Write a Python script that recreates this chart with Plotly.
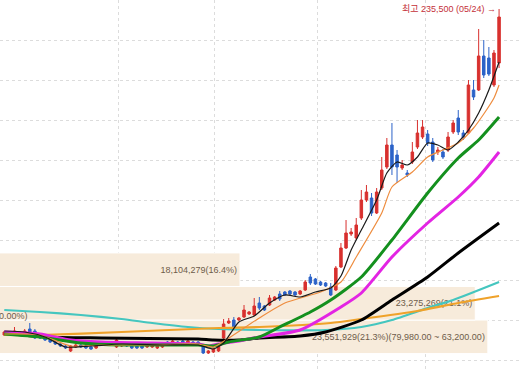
import plotly.graph_objects as go

# ---- prices in thousands of won ----
candle_idx = list(range(98))
open_k = [72.5, 72.5, 73.0, 73.0, 73.5, 75.5, 74.5, 72.0, 71.0, 70.0,
          69.0, 68.0, 67.0, 64.5, 66.5, 67.5, 67.0, 66.5, 66.0, 67.5,
          69.0, 68.0, 66.5, 67.0, 68.0, 67.0, 67.5, 67.0, 66.5, 66.5,
          66.0, 66.5, 69.0, 68.5, 69.0, 69.5, 68.5, 69.0, 69.0, 67.0,
          63.5, 64.0, 64.5, 71.0, 78.5, 80.0, 80.0, 81.5, 83.0, 82.5,
          88.5, 87.0, 87.5, 90.0, 93.0, 94.0, 94.5, 94.0, 93.0, 95.0,
          101.5, 100.5, 99.0, 98.5, 96.5, 95.0, 106.5, 116.0, 123.0, 121.0,
          131.0, 140.0, 141.0, 133.5, 146.0, 156.5, 167.5, 162.5, 156.0, 153.5,
          159.0, 166.5, 171.5, 173.0, 169.0, 164.0, 164.0, 165.0, 174.0, 181.0,
          173.5, 173.5, 195.0, 195.0, 212.0, 211.0, 197.5, 208.5]
high_k = [74.5, 74.0, 76.5, 74.5, 75.5, 78.5, 75.5, 72.5, 71.5, 70.5,
          69.5, 68.5, 67.5, 67.5, 68.0, 68.0, 67.5, 67.0, 68.5, 69.0,
          69.5, 69.5, 71.0, 68.5, 68.5, 67.5, 68.0, 67.5, 68.0, 68.0,
          67.5, 69.0, 69.5, 70.0, 69.5, 70.0, 70.0, 69.5, 69.5, 67.5,
          65.0, 66.0, 67.5, 80.5, 81.0, 81.5, 81.5, 87.5, 84.5, 91.0,
          91.5, 87.5, 92.5, 92.0, 94.5, 94.5, 95.0, 94.5, 95.0, 100.0,
          103.0, 101.0, 99.5, 99.0, 98.5, 107.0, 118.5, 130.0, 126.0, 131.0,
          145.0, 147.5, 143.5, 146.0, 161.5, 171.0, 178.5, 165.0, 160.0, 155.0,
          169.0, 180.0, 180.0, 175.0, 171.0, 166.5, 165.5, 174.0, 180.0, 185.0,
          175.0, 200.0, 200.0, 225.5, 220.0, 216.5, 215.0, 235.5]
low_k = [72.0, 72.0, 72.5, 72.5, 73.0, 73.0, 70.5, 70.5, 69.5, 68.5,
         67.5, 66.5, 65.5, 64.0, 66.0, 66.0, 65.5, 65.0, 65.5, 67.0,
         67.5, 67.5, 66.0, 66.5, 66.5, 65.5, 65.5, 65.5, 66.0, 66.0,
         65.5, 66.0, 67.5, 68.0, 67.5, 68.0, 68.0, 67.5, 67.0, 63.0,
         63.0, 63.5, 64.0, 70.5, 78.0, 76.0, 79.5, 81.0, 82.5, 82.0,
         85.0, 84.5, 87.0, 89.5, 89.5, 92.0, 92.5, 92.0, 92.5, 94.5,
         97.5, 97.5, 97.0, 96.5, 92.0, 94.5, 106.0, 115.5, 122.0, 120.0,
         130.0, 139.0, 132.0, 133.0, 145.0, 155.5, 152.5, 148.5, 155.0, 151.5,
         158.0, 165.5, 170.5, 167.0, 159.0, 162.5, 160.5, 164.0, 173.0, 172.5,
         170.0, 173.0, 190.0, 194.5, 201.0, 202.0, 196.5, 206.0]
close_k = [74.0, 73.5, 74.5, 74.0, 74.5, 73.5, 71.0, 71.0, 70.0, 69.0,
           68.0, 67.0, 66.0, 67.0, 67.5, 66.5, 66.0, 65.5, 68.0, 68.5,
           68.0, 69.0, 70.0, 68.0, 67.0, 66.0, 66.0, 66.0, 67.5, 67.5,
           67.0, 68.5, 68.0, 69.5, 68.0, 68.5, 69.5, 68.0, 67.5, 63.5,
           64.5, 65.5, 67.0, 78.0, 79.5, 76.5, 81.0, 85.0, 84.0, 87.0,
           86.0, 85.0, 91.0, 91.5, 90.5, 92.5, 93.0, 92.5, 94.5, 99.0,
           98.5, 98.0, 97.5, 97.0, 92.5, 106.0, 116.0, 123.5, 124.0, 127.5,
           140.0, 144.0, 133.5, 144.0, 155.0, 167.5, 156.5, 156.5, 157.5, 152.5,
           164.0, 173.5, 176.5, 168.5, 160.0, 165.0, 161.5, 171.5, 178.5, 174.0,
           171.0, 197.5, 191.5, 212.0, 202.5, 203.0, 213.5, 231.5]

# moving averages (read points)
ma5_idx = [0, 4, 8, 12, 17, 23, 31, 38, 41, 43, 46, 49, 52, 55, 58, 61, 64, 66, 68, 70,
           73, 75, 77, 79, 81, 83, 85, 87, 89, 91, 93, 95, 97]
ma5_val = [74.5, 74, 71.5, 66.5, 67, 68, 67.5, 67.5, 65.5, 68.5, 79, 82, 88.5, 92.5, 91.5, 94, 96, 102, 115, 125,
           140, 153.5, 159, 157.5, 161.5, 168.5, 167.5, 165, 169, 175, 183.5, 195, 209]
ma10_idx = [0, 7, 13, 19, 29, 38, 41, 44, 50, 55, 62, 66, 69, 74, 76, 80, 83, 86, 89, 92, 94, 96, 97]
ma10_val = [73, 72.5, 67, 67.5, 67.5, 68, 66.5, 71, 81, 88.5, 94, 99, 111.5, 133.5, 146.5, 154, 161.5,
            165, 168.5, 176, 183, 191, 197.5]
ma20_idx = [0, 7, 15, 23, 38, 41, 44, 50, 54, 60, 64, 70, 76, 83, 89, 93, 97]
ma20_val = [73, 71.5, 68.5, 67.5, 67.5, 67, 69, 71.5, 76.5, 84, 90, 101.5, 120, 143.5, 161, 170, 181.5]
ma60_idx = [0, 7, 13, 19, 29, 38, 40, 42, 46, 50, 58, 66, 70, 76, 83, 89, 93, 97]
ma60_val = [74, 73, 70, 69, 68.5, 68, 67, 68, 69.5, 71.5, 75, 86.5, 93.5, 111.5, 128.5, 141.5, 151.5, 164]
ma120_idx = [0, 8, 19, 38, 41, 46, 50, 58, 63, 70, 76, 83, 89, 97]
ma120_val = [73.5, 71.5, 71, 70.5, 70, 70, 71, 72, 74, 80, 90, 101.5, 113.5, 128.5]
ma_teal_idx = [0, 7, 15, 23, 29, 36, 42, 50, 63, 70, 76, 83, 88, 97]
ma_teal_val = [85, 84, 82.5, 80.5, 78.5, 76.5, 75.5, 75, 75, 76.5, 80, 86, 90, 99]
ma_gold_idx = [0, 7, 23, 42, 50, 64, 70, 81, 89, 97]
ma_gold_val = [72.5, 72.5, 74, 76, 76.5, 78.5, 80.5, 84.5, 88.5, 92]

# volume profile bands
band_low_k = [63.2, 79.98, 96.76]
band_high_k = [79.98, 96.76, 113.54]
band_volume = [23551929, 23275269, 18104279]
band_pct = [21.3, 21.1, 16.4]

peak_label_date = "05/24"

band_mid = [(lo + hi) / 2 for lo, hi in zip(band_low_k, band_high_k)]
band_h = [hi - lo for lo, hi in zip(band_low_k, band_high_k)]
band_text = [f"{v:,}({p:.1f}%)" for v, p in zip(band_volume, band_pct)]
band_text[0] += f"({band_high_k[0]*1000:,.2f} ~ {band_low_k[0]*1000:,.2f})"

fig = go.Figure()
fig.add_trace(go.Bar(
    x=band_volume, y=band_mid, width=band_h, orientation="h",
    marker=dict(color="#f7ebdb", line=dict(color="white", width=1)),
    text=band_text, textposition="inside", insidetextanchor="end", textangle=0,
    constraintext="none",
    textfont=dict(size=9, color="#6e5c4a", family="Liberation Sans"),
    xaxis="x", yaxis="y", hoverinfo="skip"))

fig.add_trace(go.Candlestick(
    x=candle_idx, open=open_k, high=high_k, low=low_k, close=close_k,
    xaxis="x2", yaxis="y", whiskerwidth=0,
    increasing=dict(line=dict(color="#d8302e", width=1), fillcolor="#d8302e"),
    decreasing=dict(line=dict(color="#2c63c8", width=1), fillcolor="#2c63c8")))

lines = [
    (ma_teal_idx, ma_teal_val, "#45c6bf", 2.2),
    (ma_gold_idx, ma_gold_val, "#efa22a", 2.2),
    (ma120_idx, ma120_val, "#000000", 3),
    (ma60_idx, ma60_val, "#e324e3", 3),
    (ma20_idx, ma20_val, "#14901e", 3),
    (ma10_idx, ma10_val, "#ee8c3e", 1.2),
    (ma5_idx, ma5_val, "#1a1a1a", 1.2),
]
for xs, ys, col, w in lines:
    fig.add_trace(go.Scatter(x=xs, y=ys, mode="lines", xaxis="x2", yaxis="y",
                             line=dict(color=col, width=w, shape="spline", smoothing=0.6),
                             hoverinfo="skip"))

peak = max(high_k)
fig.add_annotation(x=candle_idx[high_k.index(peak)], y=peak, xref="x2", yref="y",
                   text=f"최고 {peak*1000:,.0f} ({peak_label_date}) →", showarrow=False,
                   xanchor="right", yanchor="middle", xshift=-1,
                   font=dict(size=9, color="#c4303a", family="Liberation Sans, Noto Sans CJK KR"))
fig.add_annotation(x=0, y=82, xref="paper", yref="y", text="0.00%)", showarrow=False,
                   xanchor="left", yanchor="middle", xshift=-3,
                   font=dict(size=9, color="#6e5c4a", family="Liberation Sans"))

fig.update_layout(
    width=521, height=371, margin=dict(l=0, r=0, t=0, b=0),
    paper_bgcolor="white", plot_bgcolor="white", showlegend=False,
    xaxis=dict(range=[12830000, 24280000], visible=False, showgrid=False, fixedrange=True),
    xaxis2=dict(overlaying="x", range=[-0.84, 101.3], showgrid=True,
                tickvals=[22.3, 41.3, 61.5, 82.5], showticklabels=False, ticks="",
                gridcolor="#dcdcdc", griddash="dot", gridwidth=1, zeroline=False,
                showline=False, rangeslider=dict(visible=False)),
    yaxis=dict(range=[54.5, 240], tick0=0, dtick=20, showgrid=True, gridcolor="#dcdcdc",
               griddash="dot", gridwidth=1, showticklabels=False, zeroline=False, ticks=""),
)

fig.write_html("out.html", config={"displayModeBar": False},
               post_script="document.body.style.margin='0';document.documentElement.style.overflow='hidden';")
